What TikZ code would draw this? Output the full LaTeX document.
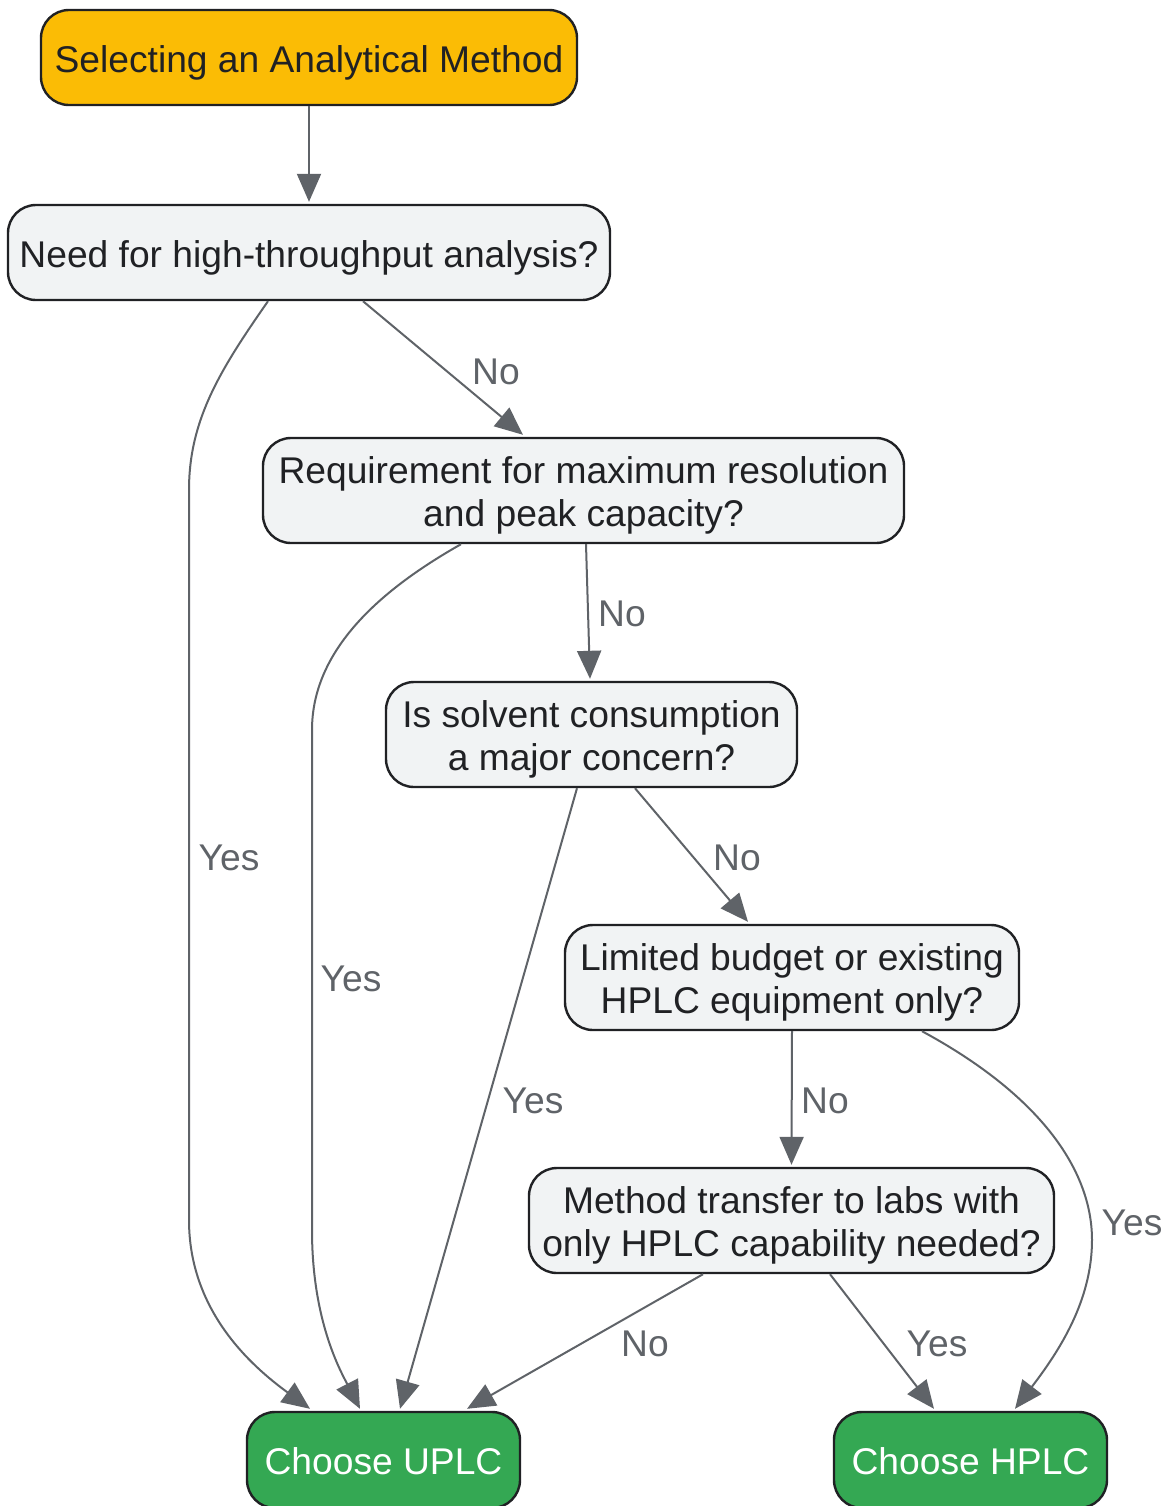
\documentclass[tikz,border=0pt]{standalone}
\usepackage{fontspec}
\setmainfont{Liberation Sans}
\usetikzlibrary{arrows.meta}
\definecolor{nodefill}{HTML}{F1F3F4}
\definecolor{nodeborder}{HTML}{202124}
\definecolor{edgegray}{HTML}{5F6368}
\definecolor{startfill}{HTML}{FBBC05}
\definecolor{greenfill}{HTML}{34A853}
\newcommand\topstr{\rule{0pt}{18.6pt}}
\newcommand\botstr{\rule[-4pt]{0pt}{4pt}}
\tikzset{
  box/.style={draw=nodeborder, line width=1.2pt, rounded corners=14pt, inner sep=0pt,
    align=center, text=nodeborder, font=\fontsize{18.6pt}{21.3pt}\selectfont},
  qbox/.style={box, fill=nodefill},
  startbox/.style={box, fill=startfill},
  endbox/.style={box, fill=greenfill, text=white},
  conn/.style={draw=edgegray, line width=1pt, -{Triangle[length=14pt,width=12pt]}},
  lbl/.style={text=edgegray, inner sep=0pt, font=\fontsize{18.6pt}{21.3pt}\selectfont}
}
\begin{document}
\begin{tikzpicture}[x=0.5pt,y=-0.5pt]
\useasboundingbox (0,0) rectangle (1164,1506);

\node[startbox, minimum width=268pt, minimum height=47.5pt] (start) at (309,57.5) {\topstr Selecting an Analytical Method\botstr};
\node[qbox, minimum width=301pt, minimum height=47.5pt] (q1) at (309,252.5) {\topstr Need for high-throughput analysis?\botstr};
\node[qbox, minimum width=320.5pt, minimum height=52.5pt] (q2) at (583.5,490.5) {\topstr Requirement for maximum resolution\\and peak capacity?\botstr};
\node[qbox, minimum width=205.5pt, minimum height=52.5pt] (q3) at (591.5,734.5) {\topstr Is solvent consumption\\a major concern?\botstr};
\node[qbox, minimum width=227pt, minimum height=52.5pt] (q4) at (792,977.5) {\topstr Limited budget or existing\\HPLC equipment only?\botstr};
\node[qbox, minimum width=262.5pt, minimum height=52.5pt] (q5) at (791.5,1220.5) {\topstr Method transfer to labs with\\only HPLC capability needed?\botstr};
\node[endbox, minimum width=136.5pt, minimum height=48pt] (uplc) at (383.5,1460) {\topstr Choose UPLC\botstr};
\node[endbox, minimum width=136.5pt, minimum height=48pt] (hplc) at (970.5,1460) {\topstr Choose HPLC\botstr};

\draw[conn] (start.south) -- ([yshift=1pt]q1.north);
\draw[conn] ([xshift=27pt]q1.south) -- ([xshift=-30.25pt,yshift=1pt]q2.north);
\draw[conn] ([xshift=1.25pt]q2.south) -- ([xshift=-0.75pt,yshift=1pt]q3.north);
\draw[conn] ([xshift=21.75pt]q3.south) -- ([xshift=-22pt,yshift=1pt]q4.north);
\draw[conn] (q4.south) -- ([yshift=1pt]q5.north);
\draw[conn] ([xshift=-44.25pt]q5.south) -- ([xshift=41.75pt,yshift=1pt]uplc.north);
\draw[conn] ([xshift=19.25pt]q5.south) -- ([xshift=-18.25pt,yshift=1pt]hplc.north);
\draw[conn] ([xshift=-7.25pt]q3.south) -- ([xshift=8.25pt,yshift=1pt]uplc.north);
\draw[conn] ([xshift=-61.25pt]q2.south) .. controls (380,590) and (312,650) .. (312,730)
  -- (312,1230) .. controls (312,1320) and (340,1370) .. ([xshift=-11.75pt,yshift=1pt]uplc.north);
\draw[conn] ([xshift=-20.5pt]q1.south) .. controls (220,370) and (189,420) .. (189,490)
  -- (189,1220) .. controls (189,1310) and (250,1365) .. ([xshift=-36.75pt,yshift=1pt]uplc.north);
\draw[conn] ([xshift=65pt]q4.south) .. controls (1040,1095) and (1092,1170) .. (1092,1240)
  .. controls (1092,1300) and (1060,1350) .. ([xshift=22.25pt,yshift=1pt]hplc.north);

\node[lbl] (l1) at (496,372) {No};
\node[lbl] (l2) at (229,858) {Yes};
\node[lbl] (l3) at (622,614) {No};
\node[lbl] (l4) at (351,979) {Yes};
\node[lbl] (l5) at (737,858) {No};
\node[lbl] (l6) at (533,1101) {Yes};
\node[lbl] (l7) at (825,1101) {No};
\node[lbl] (l8) at (1132,1223) {Yes};
\node[lbl] (l9) at (645,1344) {No};
\node[lbl] (l10) at (937,1344) {Yes};
\end{tikzpicture}
\end{document}
